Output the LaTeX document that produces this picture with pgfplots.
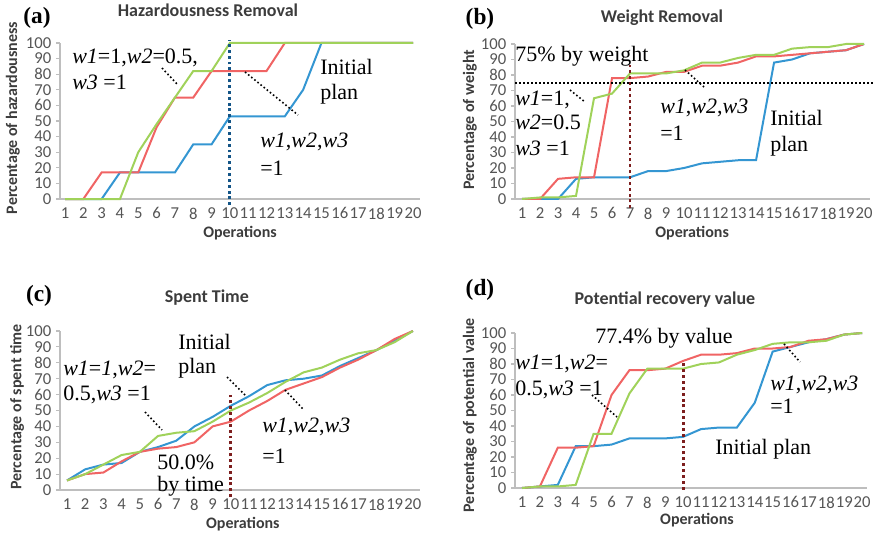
\documentclass[border=0pt]{standalone}
\usepackage{pgfplots}
\pgfplotsset{compat=1.18}
\usepackage{pgfplotstable}
\usepackage{fontspec}
\setmainfont{Carlito}
\newfontfamily\tnr{Liberation Serif}

\definecolor{sblue}{RGB}{52,150,210}
\definecolor{sred}{RGB}{240,100,100}
\definecolor{sgreen}{RGB}{160,210,90}
\definecolor{axgray}{RGB}{190,190,190}
\definecolor{txgray}{RGB}{85,85,85}
\definecolor{ttgray}{RGB}{60,60,60}
\definecolor{dkblue}{RGB}{20,85,135}
\definecolor{dkred}{RGB}{125,30,30}

% columns: operation, initial plan, w1,w2,w3=1, w1=1,w2=0.5,w3=1
\pgfplotstableread{
x blue red green
1 0 0 0
2 0 0 0
3 0 17 0
4 17 17 0
5 17 17 30
6 17 46 48
7 17 65 65
8 35 65 82
9 35 82 82
10 53 82 100
11 53 82 100
12 53 82 100
13 53 100 100
14 70 100 100
15 100 100 100
16 100 100 100
17 100 100 100
18 100 100 100
19 100 100 100
20 100 100 100
}\hazard

\pgfplotstableread{
x blue red green
1 0 0 0
2 0 0 1
3 0 13 1
4 13 14 2
5 14 14 65
6 14 78 68
7 14 78 81
8 18 79 81
9 18 82 81
10 20 82 83
11 23 86 88
12 24 86 88
13 25 88 91
14 25 92 93
15 88 92 93
16 90 93 97
17 94 94 98
18 95 95 98
19 96 96 100
20 100 100 100
}\weight

\pgfplotstableread{
x blue red green
1 6 6 6
2 13 10 10
3 16 11 16
4 17 18 22
5 24 24 24
6 27 26 34
7 31 27 36
8 40 30 37
9 46 40 43
10 53 43 50
11 59 50 55
12 66 56 61
13 69 63 68
14 70 67 74
15 72 71 77
16 78 77 82
17 83 82 86
18 88 88 88
19 94 95 93
20 100 100 100
}\spent

\pgfplotstableread{
x blue red green
1 0 0 0
2 1 1 1
3 2 26 1
4 27 26 2
5 27 27 35
6 28 60 35
7 32 76 61
8 32 76 77
9 32 77 77
10 33 82 77
11 38 86 80
12 39 86 81
13 39 87 86
14 55 90 89
15 88 90 93
16 91 91 94
17 94 95 94
18 96 96 95
19 99 99 99
20 100 100 100
}\recovery

\pgfplotsset{
  panel/.style={
    scale only axis, anchor=south west,
    ymin=0, ymax=100, ytick={0,10,...,100}, xtick={1,...,20},
    axis x line=bottom, axis y line=left,
    axis line style={-, draw=axgray, line width=0.8pt},
    xtick style={draw=none},
    ytick style={draw=axgray, line width=0.8pt},
    major tick length=3pt, tick align=outside,
    tick label style={font=\fontsize{12.5}{13}\selectfont, text=txgray},
    xticklabel style={inner xsep=0pt},
    /pgf/number format/assume math mode=true,
    title style={font=\bfseries\fontsize{13.5}{15}\selectfont, text=ttgray, anchor=center},
    xlabel style={font=\bfseries\fontsize{12}{13}\selectfont, text=ttgray, anchor=center},
    ylabel style={font=\bfseries\fontsize{12}{13}\selectfont, text=ttgray, anchor=center},
    xlabel={Operations},
    clip=false,
  },
  ser/.style={line width=1.5pt, mark=none, color=#1},
}

\newcommand\ann[3]{\node[anchor=west, inner sep=0pt, font=\tnr\fontsize{16.5}{18}\selectfont] at (#1,#2) {#3};}
\newcommand\lead[4]{\draw[black, line width=1.2pt, dash pattern=on 1.2pt off 1.8pt] (#1,#2) -- (#3,#4);}
\newcommand\plab[3]{\node[inner sep=0pt, font=\tnr\bfseries\fontsize{17.5}{19}\selectfont] at (#1,#2) {#3};}

\begin{document}
\begin{tikzpicture}
\useasboundingbox (0,0) rectangle (655.5pt,399.75pt);

% (a)
\begin{axis}[panel, at={(45pt,250.5pt)}, width=270pt, height=117pt,
  xmin=0.727, xmax=20.38,
  title={Hazardousness Removal},
  title style={at={(axis description cs:0.411,1.160)}},
  xlabel style={at={(axis description cs:0.5,-0.218)}},
  ylabel={Percentage of hazardousness},
  ylabel style={at={(axis description cs:-0.131,0.519)}}]
\addplot[ser=sblue] table[x=x, y=blue] {\hazard};
\addplot[ser=sred] table[x=x, y=red] {\hazard};
\addplot[ser=sgreen] table[x=x, y=green] {\hazard};
\addplot[dkblue, line width=2.2pt, dash pattern=on 2.2pt off 2.2pt] coordinates {(10,-4) (10,102)};
\end{axis}

% (b)
\begin{axis}[panel, at={(386.25pt,250.5pt)}, width=266.25pt, height=116.25pt,
  xmin=0.611, xmax=20.33,
  title={Weight Removal},
  title style={at={(axis description cs:0.414,1.116)}},
  xlabel style={at={(axis description cs:0.499,-0.219)}},
  ylabel={Percentage of weight},
  ylabel style={at={(axis description cs:-0.127,0.51)}}]
\addplot[ser=sblue] table[x=x, y=blue] {\weight};
\addplot[ser=sred] table[x=x, y=red] {\weight};
\addplot[ser=sgreen] table[x=x, y=green] {\weight};
\addplot[black, line width=1.5pt, dash pattern=on 1.5pt off 1.5pt] coordinates {(0.611,75) (20.55,75)};
\addplot[dkred, line width=2.2pt, dash pattern=on 2.2pt off 2.2pt] coordinates {(7,-6) (7,87)};
\end{axis}

% (c)
\begin{axis}[panel, at={(45pt,32.25pt)}, width=270pt, height=119.25pt,
  xmin=0.615, xmax=20.39,
  title={Spent Time},
  title style={at={(axis description cs:0.408,1.157)}},
  xlabel style={at={(axis description cs:0.508,-0.214)}},
  ylabel={Percentage of spent time},
  ylabel style={at={(axis description cs:-0.119,0.522)}}]
\addplot[ser=sblue] table[x=x, y=blue] {\spent};
\addplot[ser=sred] table[x=x, y=red] {\spent};
\addplot[ser=sgreen] table[x=x, y=green] {\spent};
\addplot[dkred, line width=2.2pt, dash pattern=on 2.2pt off 2.2pt] coordinates {(10,-4.5) (10,60)};
\end{axis}

% (d)
\begin{axis}[panel, at={(386.25pt,33.75pt)}, width=264pt, height=116.25pt,
  xmin=0.609, xmax=20.27,
  title={Potential recovery value},
  title style={at={(axis description cs:0.426,1.161)}},
  xlabel style={at={(axis description cs:0.517,-0.206)}},
  ylabel={Percentage of potential value},
  ylabel style={at={(axis description cs:-0.128,0.47)}}]
\addplot[ser=sblue] table[x=x, y=blue] {\recovery};
\addplot[ser=sred] table[x=x, y=red] {\recovery};
\addplot[ser=sgreen] table[x=x, y=green] {\recovery};
\addplot[dkred, line width=2.2pt, dash pattern=on 2.2pt off 2.2pt] coordinates {(10,-1) (10,82)};
\end{axis}

% annotations, in pixel units of the reference (origin top left)
\begin{scope}[x=0.75pt, y=-0.75pt, yshift=399.75pt]
\plab{37}{18}{(a)}
\plab{480}{19}{(b)}
\plab{39}{296}{(c)}
\plab{480}{290}{(d)}

% (a)
\ann{72}{58}{\textit{w1}=1,\textit{w2}=0.5,}
\ann{72}{82}{\textit{w3} =1}
\lead{162}{68}{178}{85}
\ann{320}{67}{Initial}
\ann{320}{94}{plan}
\ann{260}{142}{\textit{w1},\textit{w2},\textit{w3}}
\ann{260}{168}{=1}
\lead{245}{72}{298}{115}

% (b)
\ann{515}{56}{75\% by weight}
\ann{515}{100}{\textit{w1}=1,}
\ann{515}{122}{\textit{w2}=0.5}
\ann{515}{148}{\textit{w3} =1}
\lead{570}{90}{585}{102}
\ann{660}{108}{\textit{w1},\textit{w2},\textit{w3}}
\ann{660}{133}{=1}
\lead{685}{70}{704}{87}
\ann{770}{118}{Initial}
\ann{770}{146}{plan}

% (c)
\ann{63}{370}{\textit{w1}=\textit{1},\textit{w2}=}
\ann{63}{395}{0.5,\textit{w3} =1}
\lead{145}{412}{162}{430}
\ann{178}{342}{Initial}
\ann{178}{368}{plan}
\lead{227}{377}{245}{395}
\ann{262}{427}{\textit{w1},\textit{w2},\textit{w3}}
\ann{262}{456}{=1}
\lead{285}{390}{303}{409}
\ann{157}{462}{50.0\%}
\ann{157}{486}{by time}

% (d)
\ann{595}{338}{77.4\% by value}
\ann{515}{364}{\textit{w1}=1,\textit{w2}=}
\ann{515}{390}{0.5,\textit{w3} =1}
\lead{592}{395}{617}{417}
\ann{770}{385}{\textit{w1},\textit{w2},\textit{w3}}
\ann{770}{406}{=1}
\lead{784}{344}{800}{362}
\ann{715}{449}{Initial plan}
\end{scope}
\end{tikzpicture}
\end{document}
